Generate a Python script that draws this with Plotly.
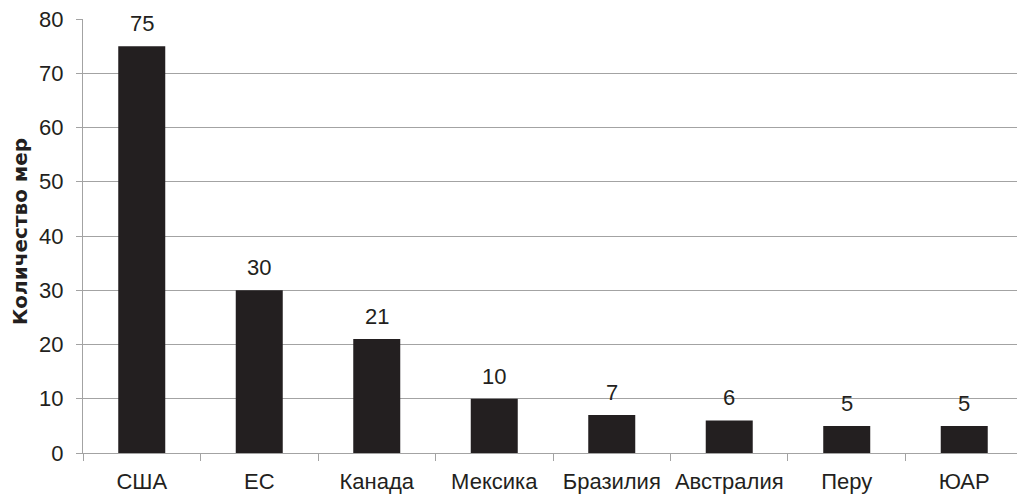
import plotly.graph_objects as go

categories = ["США", "ЕС", "Канада", "Мексика", "Бразилия", "Австралия", "Перу", "ЮАР"]
values = [75, 30, 21, 10, 7, 6, 5, 5]
y_ticks = [0, 10, 20, 30, 40, 50, 60, 70, 80]
y_title = "Количество мер"

FONT = "Liberation Sans, Arial, sans-serif"
TITLE_FONT = "DejaVu Sans, Liberation Sans, sans-serif"
AXIS_GRAY = "#a3a3a3"
BAR_COLOR = "#231f20"
TEXT_COLOR = "#231f20"

fig = go.Figure(
    go.Bar(
        x=categories,
        y=values,
        width=0.4,
        marker=dict(color=BAR_COLOR, line=dict(width=0)),
    )
)

# value labels above each bar
for cat, val in zip(categories, values):
    fig.add_annotation(
        x=cat,
        y=val,
        text=str(val),
        showarrow=False,
        yanchor="bottom",
        yshift=8,
        font=dict(family=FONT, size=22, color=TEXT_COLOR),
    )

# vertical axis title
fig.add_annotation(
    xref="paper",
    yref="paper",
    x=0,
    y=0.5,
    xanchor="center",
    yanchor="middle",
    xshift=-63,
    yshift=4,
    text=f"<b>{y_title}</b>",
    textangle=-90,
    showarrow=False,
    font=dict(family=TITLE_FONT, size=20, color=TEXT_COLOR),
)

fig.update_layout(
    width=1017,
    height=495,
    margin=dict(l=83, r=0, t=19, b=42),
    paper_bgcolor="white",
    plot_bgcolor="white",
    showlegend=False,
    font=dict(family=FONT, color=TEXT_COLOR),
)

fig.update_xaxes(
    type="category",
    range=[-0.5, 7.449],
    automargin=False,
    tickangle=0,
    showline=True,
    linecolor=AXIS_GRAY,
    linewidth=1,
    ticks="outside",
    tickson="boundaries",
    ticklen=7,
    tickcolor=AXIS_GRAY,
    ticklabelstandoff=9,
    showgrid=False,
    tickfont=dict(family=FONT, size=22, color=TEXT_COLOR),
)

fig.update_yaxes(
    range=[0, 80],
    tickvals=y_ticks,
    automargin=False,
    showline=True,
    linecolor=AXIS_GRAY,
    linewidth=1,
    ticks="outside",
    ticklen=6,
    tickcolor=AXIS_GRAY,
    ticklabelstandoff=8,
    showgrid=True,
    gridcolor=AXIS_GRAY,
    gridwidth=1,
    zeroline=False,
    tickfont=dict(family=FONT, size=22, color=TEXT_COLOR),
)

fig.write_html("out.html")
